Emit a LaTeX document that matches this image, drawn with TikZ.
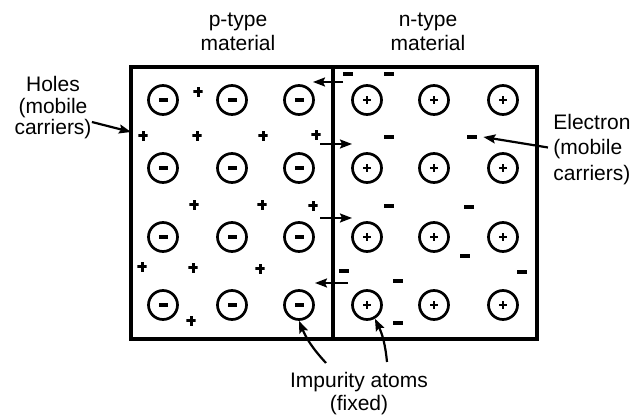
\documentclass[tikz,border=0pt]{standalone}
\usepackage{fontspec}
\setmainfont{Liberation Sans}
\usetikzlibrary{arrows.meta}

\tikzset{
  atom/.style={circle, draw, line width=1.35pt, minimum size=14.5pt, inner sep=0pt},
  acceptor/.style={atom, path picture={
      \fill ([xshift=-2.25pt,yshift=-0.9pt]path picture bounding box.center) rectangle ++(4.5pt,1.8pt);}},
  donor/.style={atom, path picture={
      \fill ([xshift=-2pt,yshift=-0.7pt]path picture bounding box.center) rectangle ++(4pt,1.4pt);
      \fill ([xshift=-0.7pt,yshift=-2pt]path picture bounding box.center) rectangle ++(1.4pt,4pt);}},
  hole/.style={inner sep=0pt, minimum size=4.6pt, path picture={
      \fill ([xshift=-2.3pt,yshift=-0.75pt]path picture bounding box.center) rectangle ++(4.6pt,1.5pt);
      \fill ([xshift=-0.75pt,yshift=-2.3pt]path picture bounding box.center) rectangle ++(1.5pt,4.6pt);}},
  electron/.style={fill, inner sep=0pt, minimum width=5pt, minimum height=1.7pt},
  lbl/.style={inner sep=0pt, align=center, font=\fontsize{10.5}{12}\selectfont},
  flow/.style={line width=1pt, -{Stealth[length=6pt,width=4.5pt,inset=1pt]}},
  pointer/.style={line width=1.1pt, -{Stealth[length=6pt,width=4.5pt,inset=1pt]}}
}

\begin{document}
\begin{tikzpicture}[x=0.5pt, y=-0.5pt]
    \useasboundingbox (0,0) rectangle (639,416);

    % Junction block
    \draw[line width=2pt] (130.5,67) rectangle (537,339);
    \draw[line width=2pt] (333,67) -- (333,339);

    % Fixed impurity atoms
    \foreach \x [count=\i] in {163,232,299}
      \foreach \y [count=\j] in {100,168,237,305}
        \node[acceptor] (p\i\j) at (\x,\y) {};
    \foreach \x [count=\i] in {367,434,503}
      \foreach \y [count=\j] in {100,168,237,305}
        \node[donor] (n\i\j) at (\x,\y) {};

    % Mobile holes (p side)
    \foreach \x/\y [count=\k] in {198/92, 143/136, 197/136, 263/136, 316/135, 194/205,
                                  262/205, 313/206, 142/267, 193/268, 260/269, 191/321}
      \node[hole] (h\k) at (\x,\y) {};

    % Mobile electrons (n side)
    \foreach \x/\y [count=\k] in {348/74, 389/74, 389/137, 472/137, 389/206, 469/207,
                                  465/256, 344/271, 398/281, 522/272, 398/323}
      \node[electron] (e\k) at (\x,\y) {};

    % Carriers crossing the junction
    \coordinate (j1s) at (343,82);  \coordinate (j1e) at (313,82);
    \coordinate (j2s) at (320,144); \coordinate (j2e) at (352,144);
    \coordinate (j3s) at (320,218); \coordinate (j3e) at (352,218);
    \coordinate (j4s) at (348,283); \coordinate (j4e) at (315,283);
    \foreach \k in {1,...,4}
      \draw[flow] (j\k s) -- (j\k e);

    % Labels
    \node[lbl] (ptype) at (238,32) {p-type\\material};
    \node[lbl] (ntype) at (428,32) {n-type\\material};
    \node[lbl, font=\fontsize{10.5}{10.75}\selectfont] (holes) at (53,108) {Holes\\(mobile\\carriers)};
    \node[lbl, align=left, anchor=west, font=\fontsize{10.5}{12.6}\selectfont] (elec) at (553,149.5) {Electron\\(mobile\\ carriers)};
    \node[lbl, font=\fontsize{10.5}{11.5}\selectfont] (imp) at (359,394) {Impurity atoms\\(fixed)};

    % Pointers
    \draw[pointer] ([yshift=-7pt]holes.east) -- ([xshift=-3.5pt,yshift=2pt]h2.west);
    \draw[pointer] ([xshift=-2.5pt,yshift=1pt]elec.west) -- ([xshift=3pt]e4.east);
    \draw[pointer] ([xshift=-16.5pt,yshift=15.5pt]imp.center) to[bend left=10] (p34.south);
    \draw[pointer] ([xshift=14pt,yshift=16pt]imp.center) to[bend right=10] (n14.-60);
\end{tikzpicture}
\end{document}
